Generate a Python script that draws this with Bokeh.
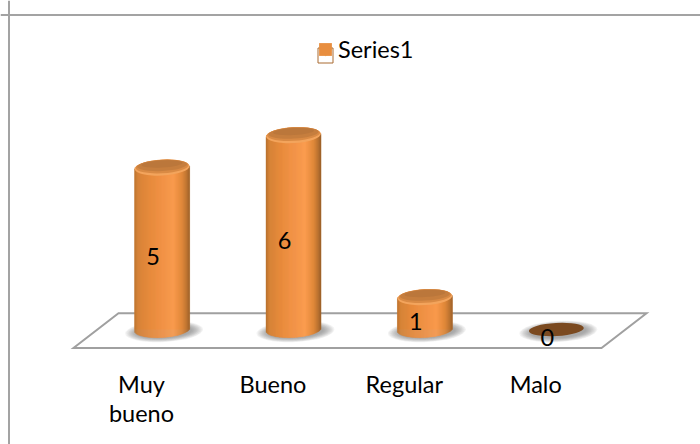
import math

from bokeh.core.properties import value
from bokeh.embed import file_html
from bokeh.models import ColumnDataSource, FixedTicker, Legend, LegendItem, Range1d, Span
from bokeh.plotting import figure
from bokeh.resources import INLINE

categories = ["Muy\nbueno", "Bueno", "Regular", "Malo"]
series_name = "Series1"
series_values = [5, 6, 1, 0]

FONT = "Lato"
FONT_SIZE = "23.5px"
WIDTH, HEIGHT = 700, 444

# Scale between value/category units and the page.
X_ORIGIN, X_STEP = 141.0, 131.4
Y_ORIGIN, Y_STEP = 329.0, 32.4


def ux(px):
    return (px - X_ORIGIN) / X_STEP


def uy(px):
    return (Y_ORIGIN - px) / Y_STEP


# The columns stand a little to the right of their tick, as on a 3D floor.
DEPTH_SHIFT = 0.157
LABEL_SHIFT = -9 / X_STEP
BAR_W, CAP_H = 55.0, 16.0
TILT = 0.055
positions = [i + DEPTH_SHIFT for i in range(len(series_values))]

SHADE = [
    (-1.00, "#b8702f"), (-0.88, "#d58338"), (-0.45, "#e88b3d"), (0.10, "#f4964a"),
    (0.42, "#fb9d50"), (0.72, "#e28a3b"), (0.90, "#bb7432"), (1.00, "#9a5f2b"),
]


def rgb(hex_colour):
    return tuple(int(hex_colour[i:i + 2], 16) for i in (1, 3, 5))


def shade_at(u):
    for (u0, c0), (u1, c1) in zip(SHADE, SHADE[1:]):
        if u <= u1:
            f = (u - u0) / (u1 - u0)
            a, b = rgb(c0), rgb(c1)
            return "#%02x%02x%02x" % tuple(round(a[k] + (b[k] - a[k]) * f) for k in range(3))
    return SHADE[-1][1]


p = figure(
    width=WIDTH, height=HEIGHT, output_backend="svg", toolbar_location=None,
    x_range=Range1d(ux(0), ux(WIDTH)), y_range=Range1d(uy(HEIGHT), uy(0)),
    min_border=0, outline_line_color=None, background_fill_color="white",
    border_fill_color="white",
)
p.grid.visible = False
p.yaxis.visible = False

# Chart area edge: only its top and left sides fall on the page.
FRAME = "#a3a3a3"
p.add_layout(Span(location=uy(14.5), dimension="width", line_color=FRAME, line_width=2))
p.add_layout(Span(location=ux(8.5), dimension="height", line_color=FRAME, line_width=2))

# Floor of the 3D plot.
floor_x = [ux(73), ux(601), ux(646), ux(118)]
floor_y = [uy(347.5), uy(347.5), uy(312.7), uy(312.7)]
p.patch(floor_x, floor_y, fill_color="white", line_color="#a0a0a0", line_width=2, line_join="miter")

# Soft shadows around the foot of each column.
for cx in positions:
    for k in range(10):
        f = k / 9
        p.ellipse(
            x=[cx + 2 / X_STEP], y=[uy(331)], width=78 - 22 * f, height=21 - 8 * f,
            width_units="screen", height_units="screen", angle=TILT,
            fill_color="#707070", fill_alpha=0.085, line_color=None,
        )

# Flat bars under the shading; they also feed the legend swatch.
bars = p.vbar(x=positions, top=series_values, bottom=0, width=BAR_W / X_STEP,
              fill_color="#e88e3f", line_color=None)

for cx, v in zip(positions, series_values):
    if v == 0:
        p.ellipse(
            x=[cx], y=[0.0], width=BAR_W, height=13, width_units="screen", height_units="screen",
            angle=TILT, fill_color="#7b4a20", line_color=None,
        )
        continue

    # Column wall, shaded across its width in one-pixel strips.
    n = int(BAR_W)
    left, right, top, bottom, colours = [], [], [], [], []
    for s in range(n):
        u = -1 + (2 * s + 1) / n
        offset = BAR_W / 2 * u
        lean = TILT * offset / Y_STEP
        foot = CAP_H / 2 * math.sqrt(1 - u * u) / Y_STEP
        left.append(cx + (offset - 0.5) / X_STEP)
        right.append(cx + (offset + 0.5) / X_STEP)
        top.append(v + lean)
        bottom.append(lean - foot)
        colours.append(shade_at(u))
    wall = ColumnDataSource(dict(left=left, right=right, top=top, bottom=bottom, colour=colours))
    p.quad(left="left", right="right", top="top", bottom="bottom", source=wall,
           fill_color="colour", line_color="colour", line_width=0.4)

    # Column cap: a light rim under a darker, slightly raised face.
    for w, h, lift, colour in [
        (BAR_W, CAP_H, 0.0, "#f3a45c"),
        (BAR_W - 2, CAP_H - 2.5, 1.0, "#d98a44"),
        (BAR_W - 5, CAP_H - 5, 2.0, "#c67e3e"),
        (BAR_W - 14, CAP_H - 9, 3.5, "#bb773b"),
    ]:
        p.ellipse(x=[cx], y=[v + lift / Y_STEP], width=w, height=h, width_units="screen",
                  height_units="screen", angle=TILT, fill_color=colour, line_color=None)

# Value labels sit at mid-height of each column.
labels = ColumnDataSource(dict(
    x=[cx + LABEL_SHIFT for cx in positions],
    y=[v / 2 for v in series_values],
    text=[str(v) for v in series_values],
))
p.text(x="x", y="y", text="text", source=labels, text_font=value(FONT), text_font_size=FONT_SIZE,
       text_color="black", text_align="center", text_baseline="middle", y_offset=8)

# Category axis pinned under the floor.
axis = p.xaxis[0]
axis.fixed_location = uy(347.5)
axis.ticker = FixedTicker(ticks=list(range(len(categories))))
axis.major_label_overrides = {i: c for i, c in enumerate(categories)}
axis.axis_line_color = None
axis.major_tick_line_color = None
axis.minor_tick_line_color = None
axis.major_tick_in = 0
axis.major_tick_out = 0
axis.major_label_standoff = 22
axis.major_label_text_font = FONT
axis.major_label_text_font_size = FONT_SIZE
axis.major_label_text_color = "black"
axis.major_label_text_line_height = 1.05

# Legend, with a bevelled key laid over its swatch.
legend = Legend(
    items=[LegendItem(label=series_name, renderers=[bars])],
    location=(317, HEIGHT - 63), orientation="horizontal", glyph_width=16, glyph_height=16,
    label_standoff=5, padding=0, margin=0, spacing=0, border_line_color=None,
    background_fill_alpha=0, label_text_font=FONT, label_text_font_size=FONT_SIZE,
    label_text_color="black", label_height=16,
)
p.add_layout(legend)
p.patch([ux(318.5), ux(332), ux(325.2)], [uy(48.5), uy(48.5), uy(56)],
        fill_color="#fbd08a", line_color=None, level="overlay")
p.patch([ux(317.5), ux(332.5), ux(332.5), ux(317.5)], [uy(47.5), uy(47.5), uy(62.5), uy(62.5)],
        fill_alpha=0, line_color="#a96a30", line_width=1, level="overlay")

open("out.html", "w").write(file_html(p, INLINE))
